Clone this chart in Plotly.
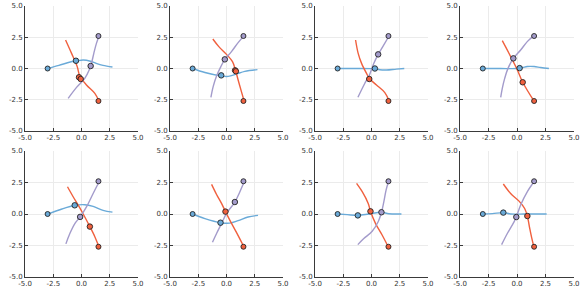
import plotly.graph_objects as go

# ---------------- data ----------------
BLUE_X = [
    [-3.0, -2.0, -1.0, -0.45, 0.15, 0.8, 1.3, 1.9, 2.74],
    [-3.0, -1.91, -0.44, 0.15, 0.88, 1.62, 2.74],
    [-3.0, -1.4, 0.0, 0.35, 0.74, 1.32, 2.2, 2.9],
    [-3.0, -1.43, 0.03, 0.5, 0.9, 1.5, 2.08, 2.8],
    [-3.0, -1.91, -0.59, 0.29, 1.03, 1.91, 2.74],
    [-3.0, -1.91, -0.53, 0.29, 1.03, 1.91, 2.79],
    [-3.0, -2.15, -1.21, -0.24, 0.88, 1.53, 2.65],
    [-3.0, -2.16, -1.2, -0.56, 0.61, 1.6, 2.6],
]
BLUE_Y = [
    [0.0, 0.25, 0.52, 0.6, 0.68, 0.58, 0.41, 0.25, 0.12],
    [0.0, -0.32, -0.6, -0.63, -0.44, -0.23, -0.09],
    [0.0, 0.0, -0.01, -0.03, -0.1, -0.12, -0.05, 0.0],
    [0.0, 0.0, 0.0, 0.08, 0.16, 0.16, 0.08, 0.0],
    [0.0, 0.34, 0.69, 0.74, 0.6, 0.29, 0.15],
    [0.0, -0.37, -0.69, -0.72, -0.53, -0.24, -0.11],
    [0.0, -0.05, -0.11, 0.0, 0.14, 0.02, 0.0],
    [0.0, 0.03, 0.11, 0.0, 0.0, 0.0, 0.0],
]
RED_X = [
    [-1.41, -0.88, -0.38, -0.15, 0.44, 1.18, 1.56],
    [-1.21, -0.68, 0.0, 0.53, 0.79, 1.03, 1.32, 1.56],
    [-1.41, -1.18, -0.88, -0.44, -0.15, 0.44, 1.18, 1.56],
    [-1.29, -0.03, 0.5, 1.49],
    [-1.24, -0.74, -0.29, 0.15, 0.74, 1.18, 1.56],
    [-1.32, -0.88, -0.44, -0.09, 0.29, 0.88, 1.56],
    [-1.32, -0.82, -0.29, -0.09, 0.35, 0.94, 1.5],
    [-1.2, -0.56, 0.18, 0.67, 0.91, 1.11, 1.29, 1.49],
]
RED_Y = [
    [2.28, 1.21, 0.15, -0.6, -1.32, -1.99, -2.63],
    [2.36, 1.75, 1.13, 0.55, -0.12, -0.92, -1.85, -2.6],
    [2.28, 1.21, 0.41, -0.39, -0.84, -1.32, -1.93, -2.6],
    [2.23, 0.01, -1.1, -2.6],
    [2.16, 1.37, 0.7, 0.0, -1.0, -1.8, -2.64],
    [2.35, 1.55, 0.84, 0.19, -0.48, -1.46, -2.64],
    [2.43, 1.77, 0.84, 0.21, -0.74, -1.67, -2.64],
    [2.38, 1.63, 1.02, 0.44, -0.16, -1.11, -1.9, -2.64],
]
PURPLE_X = [
    [-1.18, -0.44, 0.29, 0.68, 0.88, 1.09, 1.32, 1.56],
    [-1.38, -1.18, -0.88, -0.5, -0.15, 0.44, 1.03, 1.56],
    [-1.2, -0.6, -0.2, 0.2, 0.59, 1.0, 1.55],
    [-1.43, -1.29, -1.08, -0.79, -0.32, 0.32, 0.9, 1.49],
    [-1.38, -1.03, -0.59, -0.12, 0.44, 1.03, 1.56],
    [-1.24, -0.88, -0.44, 0.0, 0.74, 1.56],
    [-1.21, -0.68, 0.06, 0.59, 0.88, 1.09, 1.29, 1.5],
    [-1.35, -0.85, -0.26, -0.06, 0.32, 0.91, 1.49],
]
PURPLE_Y = [
    [-2.39, -1.51, -0.79, -0.12, 0.41, 1.21, 2.01, 2.63],
    [-2.31, -1.45, -0.6, 0.15, 0.73, 1.35, 2.07, 2.63],
    [-2.3, -1.2, -0.55, 0.4, 1.13, 1.75, 2.6],
    [-2.31, -1.59, -0.79, 0.01, 0.81, 1.48, 2.15, 2.63],
    [-2.37, -1.55, -0.76, -0.23, 0.56, 1.63, 2.56],
    [-2.24, -1.55, -0.76, 0.05, 0.95, 2.56],
    [-2.43, -1.95, -1.37, -0.62, 0.12, 0.97, 1.9, 2.56],
    [-2.43, -1.55, -0.62, -0.24, 0.72, 1.78, 2.56],
]
# current-position markers
BLUE_PT_X = [[-0.49], [-0.47], [0.3], [0.23], [-0.6], [-0.53], [-1.21], [-1.2]]
BLUE_PT_Y = [[0.62], [-0.55], [0.0], [0.03], [0.69], [-0.69], [-0.11], [0.11]]
RED_PT_X = [[-0.22, -0.07], [0.76, 0.83], [-0.2], [0.5], [0.74], [-0.09], [-0.09], [0.91]]
RED_PT_Y = [[-0.7, -0.84], [-0.15, -0.22], [-0.84], [-1.1], [-1.0], [0.19], [0.21], [-0.16]]
PURPLE_PT_X = [[0.81], [-0.15], [0.59], [-0.32], [-0.12], [0.74], [0.88], [-0.06]]
PURPLE_PT_Y = [[0.2], [0.73], [1.13], [0.81], [-0.23], [0.95], [0.14], [-0.24]]
# starting points (same in every panel)
START_X = [-3.0, 1.5, 1.5]
START_Y = [0.0, 2.6, -2.6]

TICK_VALS = [-5, -2.5, 0, 2.5, 5]
TICK_TEXT = ["-5.0", "-2.5", "0.0", "2.5", "5.0"]

# ---------------- style ----------------
C_BLUE = "#6AAAD8"
C_RED = "#F0603E"
C_PURPLE = "#A39BCB"
START_COLORS = [C_BLUE, C_PURPLE, C_RED]
W, H = 581, 291
COLS_PX = [(25, 138), (170, 283), (315, 428), (460, 574)]
ROWS_PX = [(6, 131), (151, 277)]

fig = go.Figure()
layout = {}
for i in range(8):
    r, c = divmod(i, 4)
    xa = "x" if i == 0 else f"x{i+1}"
    ya = "y" if i == 0 else f"y{i+1}"
    xkey = "xaxis" if i == 0 else f"xaxis{i+1}"
    ykey = "yaxis" if i == 0 else f"yaxis{i+1}"
    x0, x1 = COLS_PX[c]
    y0, y1 = ROWS_PX[r]
    common = dict(
        range=[-5, 5], tickvals=TICK_VALS, ticktext=TICK_TEXT,
        showgrid=True, gridcolor="#EBEBEB", gridwidth=1, zeroline=False,
        showline=True, linecolor="#3A3A3A", linewidth=1,
        ticks="inside", ticklen=3, tickcolor="#3A3A3A",
        tickfont=dict(family="DejaVu Sans", size=7, color="#333333"),
        fixedrange=True, automargin=False,
    )
    layout[xkey] = dict(common, domain=[x0 / W, x1 / W], anchor=ya)
    layout[ykey] = dict(common, domain=[1 - y1 / H, 1 - y0 / H], anchor=xa)

    for xs, ys, col in [(BLUE_X[i], BLUE_Y[i], C_BLUE),
                        (RED_X[i], RED_Y[i], C_RED),
                        (PURPLE_X[i], PURPLE_Y[i], C_PURPLE)]:
        fig.add_trace(go.Scatter(x=xs, y=ys, mode="lines", xaxis=xa, yaxis=ya,
                                 line=dict(color=col, width=1.4, shape="spline", smoothing=1.0),
                                 hoverinfo="skip", cliponaxis=False))
    mk_line = dict(color="#222222", width=0.9)
    fig.add_trace(go.Scatter(x=START_X, y=START_Y, mode="markers", xaxis=xa, yaxis=ya,
                             marker=dict(size=5, color=START_COLORS, line=mk_line)))
    for xs, ys, col in [(BLUE_PT_X[i], BLUE_PT_Y[i], C_BLUE),
                        (RED_PT_X[i], RED_PT_Y[i], C_RED),
                        (PURPLE_PT_X[i], PURPLE_PT_Y[i], C_PURPLE)]:
        fig.add_trace(go.Scatter(x=xs, y=ys, mode="markers", xaxis=xa, yaxis=ya,
                                 marker=dict(size=5.5, color=col, line=mk_line)))

fig.update_layout(**layout)
fig.update_layout(width=W, height=H, margin=dict(l=0, r=0, t=0, b=0, pad=0, autoexpand=False),
                  showlegend=False, plot_bgcolor="white", paper_bgcolor="white")
fig.write_html("out.html", config={"displayModeBar": False},
               post_script="document.body.style.margin='0';document.body.style.padding='0';")
